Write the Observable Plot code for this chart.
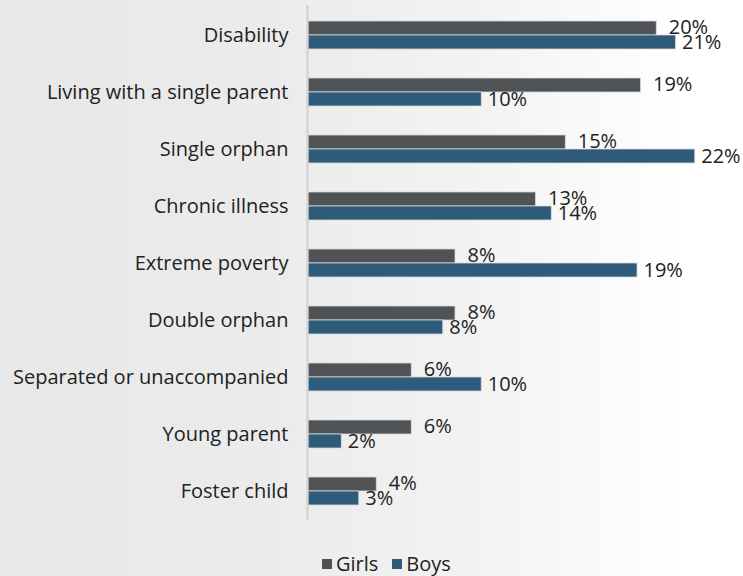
<!DOCTYPE html>
<html><head><meta charset="utf-8">
<script src="https://cdn.jsdelivr.net/npm/d3@7"></script>
<script src="https://cdn.jsdelivr.net/npm/@observablehq/plot@0.6"></script>
<style>
html,body{margin:0;padding:0;}
body{width:743px;height:576px;background:linear-gradient(to right,#e8e8e8 0%,#ebebeb 35%,#f3f3f3 65%,#ffffff 92%);font-family:"Open Sans",sans-serif;overflow:hidden;}
#chart svg{display:block;}
#legend{position:absolute;left:322px;top:553px;display:flex;align-items:center;font-size:20px;line-height:22px;color:#222;}
#legend .item{display:flex;align-items:center;margin-right:14px;}
#legend .sw{width:10px;height:10px;margin-right:4px;}
</style></head>
<body><div id="chart"></div><div id="legend"></div>
<script>
const categories = ["Disability","Living with a single parent","Single orphan","Chronic illness","Extreme poverty","Double orphan","Separated or unaccompanied","Young parent","Foster child"];
const girls = [19.9, 19.0, 14.7, 13.0, 8.4, 8.4, 5.9, 5.9, 3.9];
const boys  = [21.0, 9.9, 22.1, 13.9, 18.8, 7.7, 9.9, 1.9, 2.9];
const series = ["Girls","Boys"];
const colors = ["#505356","#2e5b7a"];

const gData = categories.map((c,i)=>({category:c, sex:"Girls", value:girls[i]}));
const bData = categories.map((c,i)=>({category:c, sex:"Boys", value:boys[i]}));
const fmt = v => Math.round(v) + "%";
const half = 14;

const plot = Plot.plot({
  width:743, height:530, marginLeft:308, marginRight:15, marginTop:5, marginBottom:10,
  style:{background:"transparent", fontFamily:"Open Sans", fontSize:"20px", color:"#222", overflow:"visible"},
  x:{domain:[0,24], axis:null},
  y:{domain:categories, paddingInner:0.51, paddingOuter:0.263, label:null, tickSize:0, tickPadding:20},
  color:{domain:series, range:colors},
  marks:[
    Plot.barX(gData,{y:"category", x:"value", fill:"sex", insetBottom:half, stroke:"#d8d8d8", strokeWidth:0.8}),
    Plot.barX(bData,{y:"category", x:"value", fill:"sex", insetTop:half, stroke:"#d8d8d8", strokeWidth:0.8}),
    Plot.ruleX([0],{stroke:"#d0d0d0", strokeWidth:2, dx:-1}),
    Plot.text(gData,{y:"category", x:"value", text:d=>fmt(d.value), textAnchor:"start", dx:12, dy:-8, fontSize:20, fill:"#222"}),
    Plot.text(bData,{y:"category", x:"value", text:d=>fmt(d.value), textAnchor:"start", dx:6, dy:7, fontSize:20, fill:"#222"})
  ]
});
document.getElementById("chart").appendChild(plot);

const leg = document.getElementById("legend");
series.forEach((s,i)=>{
  const it = document.createElement("div"); it.className="item";
  const sw = document.createElement("div"); sw.className="sw"; sw.style.background=colors[i];
  const tx = document.createElement("span"); tx.textContent=s;
  it.appendChild(sw); it.appendChild(tx); leg.appendChild(it);
});
</script>
</body></html>
